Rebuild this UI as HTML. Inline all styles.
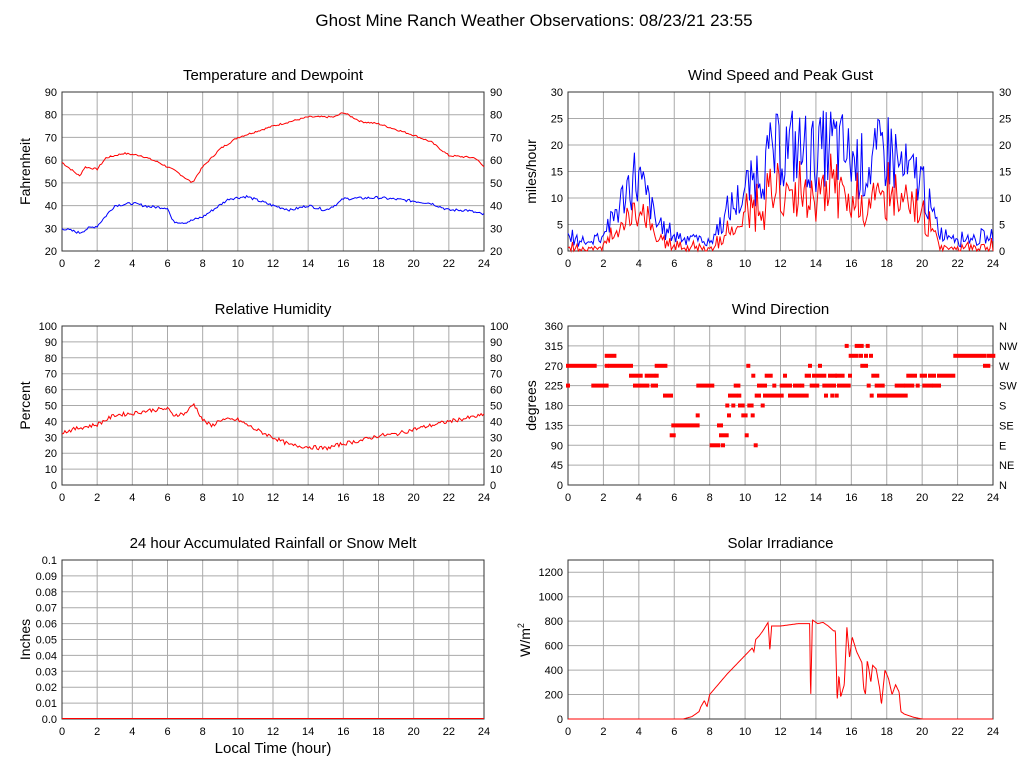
<!DOCTYPE html>
<html><head><meta charset="utf-8">
<style>
html,body{margin:0;padding:0;background:#fff;}
svg{display:block;font-family:"Liberation Sans",Arial,sans-serif;}
</style></head>
<body>
<svg id="s" width="1027" height="772" xmlns="http://www.w3.org/2000/svg"></svg>
<script>
const S=document.getElementById('s');let out='';
out+='<rect width="1027" height="772" fill="#fff"/>';
out+='<text x="534" y="26" font-size="17" text-anchor="middle">Ghost Mine Ranch Weather Observations: 08/23/21 23:55</text>';
let seed=7;function rnd(){seed=(seed*9301+49297)%233280;return seed/233280;}
function interp(k,h){for(let i=0;i<k.length-1;i++){if(h>=k[i][0]&&h<=k[i+1][0]){const t=(h-k[i][0])/(k[i+1][0]-k[i][0]);return k[i][1]+t*(k[i+1][1]-k[i][1]);}}return k[k.length-1][1];}
function panel(x0,y0,x1,y1,ymin,ymax,yt,fmt,title,ylab,right,rlabels){
  out+=`<text x="${(x0+x1)/2}" y="${y0-12}" font-size="15" text-anchor="middle">${title}</text>`;
  for(let i=0;i<=12;i++){const x=x0+(x1-x0)*i/12;out+=`<line x1="${x}" y1="${y0}" x2="${x}" y2="${y1}" stroke="#aaa"/>`;
    out+=`<text x="${x}" y="${y1+16}" font-size="11" text-anchor="middle">${i*2}</text>`;}
  yt.forEach((v,j)=>{const y=y1-(v-ymin)/(ymax-ymin)*(y1-y0);out+=`<line x1="${x0}" y1="${y}" x2="${x1}" y2="${y}" stroke="#aaa"/>`;
    out+=`<text x="${x0-5}" y="${y+4}" font-size="11" text-anchor="end">${fmt(v)}</text>`;
    if(right) out+=`<text x="${x1+6}" y="${y+4}" font-size="11">${rlabels?rlabels[j]:fmt(v)}</text>`;});
  out+=`<rect x="${x0}" y="${y0}" width="${x1-x0}" height="${y1-y0}" fill="none" stroke="#333"/>`;
  out+=`<text transform="translate(${x0-32},${(y0+y1)/2}) rotate(-90)" font-size="14" text-anchor="middle">${ylab}</text>`;
}
function line(x0,y0,x1,y1,ymin,ymax,f,col,n){let p=[];for(let i=0;i<=n;i++){const h=24*i/n;let v=f(h);v=Math.max(ymin,Math.min(ymax,v));p.push((x0+(x1-x0)*h/24).toFixed(1)+','+(y1-(v-ymin)/(ymax-ymin)*(y1-y0)).toFixed(1));}
 out+=`<polyline points="${p.join(' ')}" fill="none" stroke="${col}" stroke-width="1"/>`;}
const r=a=>{let o=[];for(let v=a[0];v<=a[1]+1e-9;v+=a[2])o.push(+v.toFixed(4));return o;};
panel(62,92,484,251,20,90,r([20,90,10]),v=>v,'Temperature and Dewpoint','Fahrenheit',true);
const T=[[0,59],[1,53],[1.3,57],[2,56],[2.5,61],[3.5,63],[4.5,62],[5.5,59],[6.5,55],[7.4,50],[8,57],[9,65],[10,70],[12,75],[14,79],[15.5,79],[16,81],[17,77],[18,76],[20,71],[21,68],[22,62],[23.5,61],[24,57]];
const D=[[0,30],[1,28],[1.5,30],[2,31],[3,40],[4,41],[5,39.5],[6,39],[6.3,33],[7,32.5],[8,35],[9.5,43],[10.5,44],[12,40],[13,38],[14,40],[15,38],[15.7,41],[16,43],[18,43.5],[20,42],[21,41],[22,38],[23,38],[24,36]];
line(62,92,484,251,20,90,h=>interp(T,h)+(rnd()-.5)*0.8,'red',288);
line(62,92,484,251,20,90,h=>interp(D,h)+(rnd()-.5)*1.2,'blue',288);
panel(568,92,993,251,0,30,r([0,30,5]),v=>v,'Wind Speed and Peak Gust','miles/hour',true);
const G=[[0,3],[1,2],[2,4],[3,10],[3.8,16],[4.5,11],[5,6],[6,3.5],[7,3],[8,2],[9,8],[10,12],[11,18],[12,21],[13,21],[14,20],[15,22],[16,19],[17,17],[18,22],[19,16],[20,15],[20.5,8],[21,4],[22,3],[24,3]];
let gv=[];for(let i=0;i<=288;i++)gv.push(Math.max(0,interp(G,24*i/288)*(0.55+rnd()*0.75)-1+rnd()*1.5));
let k=0;line(568,92,993,251,0,30,h=>gv[k++],'blue',288);
k=0;line(568,92,993,251,0,30,h=>Math.max(0,gv[k++]*(0.45+rnd()*0.3)-1.2+rnd()),'red',288);
panel(62,326,484,485,0,100,r([0,100,10]),v=>v,'Relative Humidity','Percent',true);
const RH=[[0,33],[1,36],[2,38],[3,44],[4,45],[5,47],[6,48],[6.3,44],[7,45],[7.5,51],[8,41],[8.5,37],[9,41],[10,41],[11,35],[12,30],[13,25],[14,24],[15,23],[16,26],[17,28],[18,31],[19,32],[20,35],[22,40],[23,42],[24,44]];
line(62,326,484,485,0,100,h=>interp(RH,h)+(rnd()-.5)*2.5,'red',288);
panel(568,326,993,485,0,360,r([0,360,45]),v=>v,'Wind Direction','degrees',true,['N','NE','E','SE','S','SW','W','NW','N']);
const DD={270:[[24,104],[140],[150,213],[290,316],[565],[750],[780],[907,918],[1275,1285]],
225:[[24],[100,140],[225,235],[245,262],[278,288],[415,457],[527,535],[597,615],[643],[665,690],[705,717],[727],[755,762],[772],[793,810],[822],[837,866],[926],[950,968],[1010,1028],[1038,1057],[1073],[1093,1112],[1122,1137]],
292.5:[[140,163],[872,890],[903],[918],[933],[1186,1272],[1285,1300]],
247.5:[[213,242],[260,280],[290],[580],[620,632],[675],[740,747],[762,793],[810,825],[832,848],[870],[940,952],[1045,1065],[1085,1095],[1110,1122],[1137,1180]],
202.5:[[315,333],[510,527],[538],[590,597],[615,665],[690,705],[717,740],[798],[817],[830],[935],[957,1037]],
180:[[502],[520],[540,548],[568,575],[608]],157.5:[[413],[507],[550,557],[578]],135:[[340,413],[477,483]],
112.5:[[335,341],[483,500],[560]],90:[[455,475],[489],[587]],315:[[860],[890,905],[923]]};
for(const v in DD){const y=485-v/360*159;DD[v].forEach(s=>{const a=560+s[0]/3,b=560+(s.length>1?s[1]:s[0])/3;out+=`<rect x="${(a-2).toFixed(1)}" y="${(y-2).toFixed(1)}" width="${(b-a+4).toFixed(1)}" height="4" fill="red"/>`;});}
panel(62,560,484,719,0,0.1,r([0,0.1,0.01]),v=>v===0?'0.0':v.toFixed(2).replace(/0$/,'')==='0.1'?'0.1':v.toFixed(2),'24 hour Accumulated Rainfall or Snow Melt','Inches',false);
out+=`<line x1="62" y1="718.5" x2="484" y2="718.5" stroke="red"/>`;
out+=`<text x="273" y="753" font-size="15" text-anchor="middle">Local Time (hour)</text>`;
panel(568,560,993,719,0,1300,r([0,1200,200]),v=>v,'Solar Irradiance','',false);
out+=`<text transform="translate(530,640) rotate(-90)" font-size="14" text-anchor="middle">W/m<tspan font-size="9" dy="-6">2</tspan></text>`;
const SO=[[0,0],[6.5,0],[7,20],[7.4,60],[7.5,100],[7.7,150],[7.85,100],[8,200],[9,370],[10,520],[10.4,580],[10.5,550],[10.6,650],[10.8,680],[11,720],[11.3,790],[11.4,560],[11.5,760],[12,760],[13,780],[13.65,780],[13.7,150],[13.8,810],[14.1,780],[14.4,790],[14.7,760],[15,720],[15.1,720],[15.2,150],[15.3,360],[15.4,180],[15.6,280],[15.75,750],[15.9,500],[16.05,670],[16.3,550],[16.6,460],[16.7,250],[16.8,200],[16.9,480],[17,400],[17.1,300],[17.2,440],[17.4,410],[17.6,250],[17.7,120],[17.9,400],[18.1,330],[18.3,200],[18.5,280],[18.7,220],[18.8,60],[19,40],[19.5,15],[20,0],[24,0]];
line(568,560,993,719,0,1300,h=>interp(SO,h),'red',1152);
S.innerHTML=out;
</script>
</body></html>
